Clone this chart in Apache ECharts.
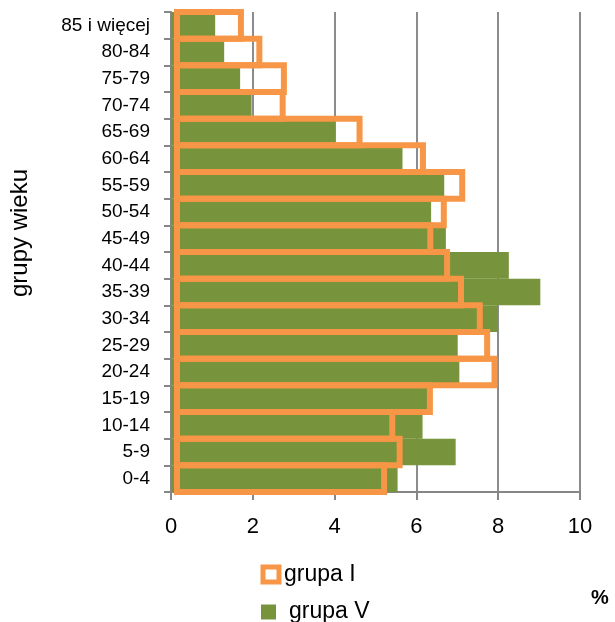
<!DOCTYPE html>
<html>
<head>
<meta charset="utf-8">
<script src="https://cdn.jsdelivr.net/npm/echarts@6/dist/echarts.min.js"></script>
<style>
html,body{margin:0;padding:0;background:#fff;}
#chart{width:615px;height:622px;}
</style>
</head>
<body>
<div id="chart"></div>
<script>
const categories = ['0-4','5-9','10-14','15-19','20-24','25-29','30-34','35-39','40-44','45-49','50-54','55-59','60-64','65-69','70-74','75-79','80-84','85 i więcej'];
const grupaI = [5.21,5.59,5.41,6.33,7.91,7.73,7.55,7.09,6.75,6.34,6.67,7.12,6.16,4.61,2.73,2.76,2.16,1.71];
const grupaV = [5.54,6.96,6.15,6.27,7.05,7.01,7.99,9.03,8.26,6.72,6.36,6.68,5.66,4.01,1.97,1.69,1.30,1.08];
const xTicks = [0,2,4,6,8,10];

const FONT = 'Liberation Sans';
const BORDER = 6;
const plotW = 409; // px width of plot area
const shift = (BORDER / 2) * (xTicks[xTicks.length-1] - xTicks[0]) / plotW; // centre the outline stroke on the value

const chart = echarts.init(document.getElementById('chart'));
chart.setOption({
  animation: false,
  backgroundColor: '#fff',
  grid: {left: 171, right: 35, top: 12, bottom: 130, containLabel: false},
  xAxis: [
    {
      type: 'value', min: xTicks[0], max: xTicks[xTicks.length-1], interval: 2,
      axisLine: {show: true, lineStyle: {color: '#868686', width: 2}},
      axisTick: {show: true, length: 8, lineStyle: {color: '#868686', width: 2}},
      splitLine: {show: true, lineStyle: {color: '#8c8c8c', width: 2}},
      axisLabel: {color: '#000', fontFamily: FONT, fontSize: 22, margin: 24}
    },
    {
      type: 'value', show: false,
      min: xTicks[0] - shift, max: xTicks[xTicks.length-1] - shift,
      splitLine: {show: false}
    }
  ],
  yAxis: [
    {
      type: 'category', data: categories,
      axisLine: {show: true, lineStyle: {color: '#868686', width: 2}},
      axisTick: {show: true, length: 7, lineStyle: {color: '#868686', width: 2}},
      axisLabel: {color: '#000', fontFamily: FONT, fontSize: 19, margin: 21}
    },
    {
      type: 'category', data: categories, show: false
    }
  ],
  legend: [
    {
      data: ['grupa I'], left: 260.5, top: 563, orient: 'vertical', padding: 0,
      icon: 'rect', itemWidth: 16, itemHeight: 15,
      itemStyle: {color: '#fff', borderColor: '#F79646', borderWidth: 5},
      textStyle: {color: '#000', fontFamily: FONT, fontSize: 23}
    },
    {
      data: ['grupa V'], left: 261, top: 600.5, orient: 'vertical', padding: 0,
      icon: 'rect', itemWidth: 15, itemHeight: 15,
      itemStyle: {color: '#77933C', borderWidth: 0},
      textStyle: {color: '#000', fontFamily: FONT, fontSize: 23, padding: [0,0,0,8]}
    }
  ],
  graphic: [
    {type: 'text', x: 20, y: 233, rotation: Math.PI/2,
     style: {text: 'grupy wieku', fill: '#000', font: '24px "Liberation Sans"', textAlign: 'center', textVerticalAlign: 'middle'}},
    {type: 'text', x: 600, y: 598,
     style: {text: '%', fill: '#000', font: 'bold 20px "Liberation Sans"', textAlign: 'center', textVerticalAlign: 'middle'}}
  ],
  series: [
    {
      name: 'grupa V', type: 'bar', data: grupaV,
      xAxisIndex: 0, yAxisIndex: 0,
      barCategoryGap: '0%', z: 2,
      itemStyle: {color: '#77933C'}
    },
    {
      name: 'grupa I', type: 'bar', data: grupaI,
      xAxisIndex: 1, yAxisIndex: 1,
      barWidth: '122.5%', z: 3, clip: false,
      itemStyle: {color: 'rgba(255,255,255,0)', borderColor: '#F79646', borderWidth: BORDER}
    }
  ]
});
</script>
</body>
</html>
